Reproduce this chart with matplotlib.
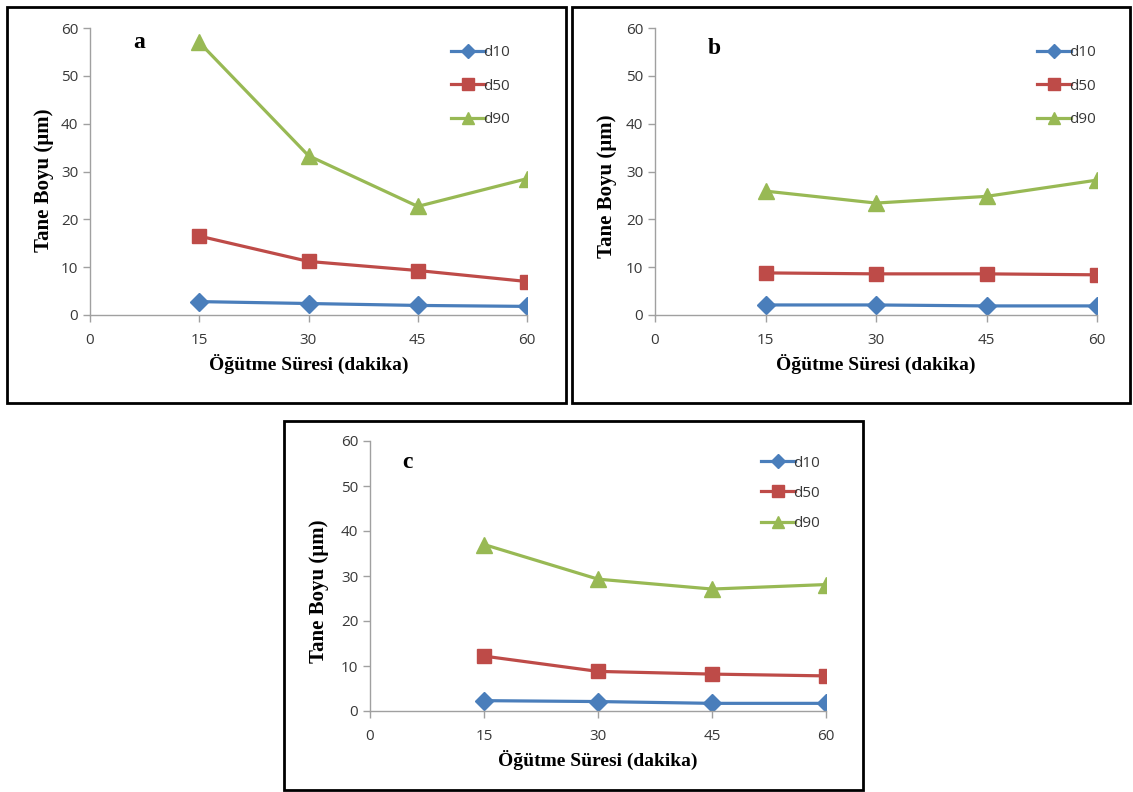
import matplotlib
matplotlib.use("Agg")
import matplotlib.pyplot as plt
from matplotlib.patches import Rectangle

# veriler (okunan degerler)
sure = [15, 30, 45, 60]

a_d10 = [2.8, 2.4, 2.0, 1.8]
a_d50 = [16.5, 11.2, 9.3, 7.0]
a_d90 = [57.0, 33.3, 22.7, 28.5]

b_d10 = [2.1, 2.1, 1.9, 1.9]
b_d50 = [8.8, 8.6, 8.6, 8.4]
b_d90 = [25.9, 23.4, 24.8, 28.2]

c_d10 = [2.3, 2.1, 1.7, 1.7]
c_d50 = [12.2, 8.8, 8.2, 7.8]
c_d90 = [37.0, 29.3, 27.1, 28.1]

x_ticks = [0, 15, 30, 45, 60]
y_ticks = [0, 10, 20, 30, 40, 50, 60]
seri_adlari = ["d10", "d50", "d90"]

renkler = ["#4a7ebb", "#be4b48", "#98b954"]
isaretler = ["D", "s", "^"]
boyutlar = [9, 10, 11]

W, H = 1133, 792


def frac(left, top, right, bottom):
    # piksel -> figur orani
    return [left / W, 1 - bottom / H, (right - left) / W, (bottom - top) / H]


def grafik(fig, rect, harf, seriler, harf_pos, leg_pos, ylab_pos, aralik):
    ax = fig.add_axes(rect)
    for vals, c, m, s, lab in zip(seriler, renkler, isaretler, boyutlar, seri_adlari):
        ax.plot(sure, vals, color=c, marker=m, markersize=s, lw=2.3, label=lab)
    ax.set_xlim(0, 60)
    ax.set_ylim(0, 60)
    ax.set_xticks(x_ticks)
    ax.set_yticks(y_ticks)
    for sp in ["top", "right"]:
        ax.spines[sp].set_visible(False)
    for sp in ["left", "bottom"]:
        ax.spines[sp].set_color("#a0a0a0")
        ax.spines[sp].set_linewidth(1)
    ax.tick_params(colors="#a0a0a0", labelcolor="#383838", labelsize=11, length=5,
                   width=1)
    ax.tick_params(axis="x", pad=8)
    for t in ax.get_xticklabels() + ax.get_yticklabels():
        t.set_family("Open Sans")
    ax.set_xlabel("Öğütme Süresi (dakika)", family="Liberation Serif",
                  fontweight="bold", fontsize=14, labelpad=4)
    ax.set_ylabel("Tane Boyu (µm)", family="Liberation Serif",
                  fontweight="bold", fontsize=15)
    ax.yaxis.set_label_coords(*ylab_pos)
    ax.text(harf_pos[0], harf_pos[1], harf, transform=ax.transAxes,
            family="Liberation Serif", fontweight="bold", fontsize=17,
            ha="left", va="center")
    leg = ax.legend(loc="upper left", bbox_to_anchor=leg_pos, frameon=False,
                    handlelength=2.2, handletextpad=-0.1, labelspacing=aralik,
                    markerscale=0.8, prop={"family": "Open Sans", "size": 11})
    for t in leg.get_texts():
        t.set_color("#383838")
    return ax


fig = plt.figure(figsize=(W / 100, H / 100), dpi=100)

# cerceveler
for (l, t, r, b) in [(7, 7, 566, 403), (572, 7, 1130, 403), (284, 421, 863, 790)]:
    fig.patches.append(Rectangle((l / W, 1 - b / H), (r - l) / W, (b - t) / H,
                                 transform=fig.transFigure, fill=False,
                                 edgecolor="black", linewidth=2))

grafik(fig, frac(90, 28, 527, 315), "a", [a_d10, a_d50, a_d90],
       (0.1, 0.95), (0.795, 0.988), (-0.082, 0.47), 1.2)
grafik(fig, frac(655, 28, 1097, 315), "b", [b_d10, b_d50, b_d90],
       (0.12, 0.93), (0.833, 0.988), (-0.086, 0.45), 1.2)
grafik(fig, frac(370, 441, 826, 711), "c", [c_d10, c_d50, c_d90],
       (0.07, 0.92), (0.828, 0.997), (-0.09, 0.444), 1.0)

fig.savefig("out.png", dpi=100)
